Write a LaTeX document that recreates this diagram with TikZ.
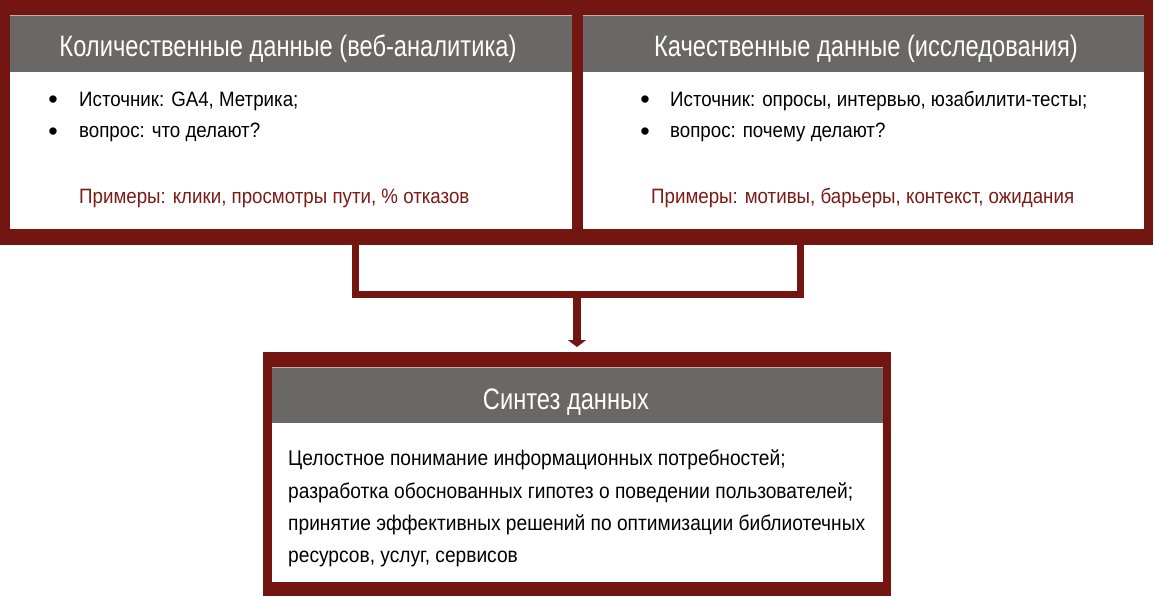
\documentclass[tikz,border=0pt]{standalone}
\usepackage{fontspec}
\setmainfont[FakeStretch=0.9]{Liberation Sans}
\newfontfamily\headfont[FakeStretch=0.8]{Liberation Sans}
\newfontfamily\bulletfont{Liberation Sans}
\usetikzlibrary{arrows.meta}
\definecolor{maroon}{HTML}{731510}
\definecolor{hgray}{HTML}{6B6766}
\definecolor{exred}{HTML}{7D1B16}
\definecolor{hair}{HTML}{C9ABA8}
\newcommand\hfnt{\headfont\fontsize{29.6}{32}\selectfont}
\newcommand\bfnt{\fontsize{20.8}{24}\selectfont}
\newcommand\sfnt{\fontsize{21.3}{24}\selectfont}
\tikzset{
  outerbox/.style={fill=maroon, draw=none, inner sep=0pt, outer sep=0pt, anchor=north west},
  headbox/.style={fill=hgray, draw=none, inner sep=0pt, outer sep=0pt, anchor=north west},
  bodybox/.style={fill=white, draw=none, inner sep=0pt, outer sep=0pt, anchor=north west},
  hairline/.style={draw=hair, line width=0.9pt},
  htext/.style={text=white, font=\hfnt, inner sep=0pt, anchor=base},
  btext/.style={text=black, font=\bfnt, inner sep=0pt, anchor=base west},
  extext/.style={text=exred, font=\bfnt, inner sep=0pt, anchor=base west},
  stext/.style={text=black, font=\sfnt, inner sep=0pt, anchor=base west},
  bul/.style={text=black, font=\bulletfont\fontsize{27}{27}\selectfont, inner sep=0pt, anchor=base},
  conn/.style={draw=maroon, line width=7pt, line join=miter, line cap=butt},
  arrowconn/.style={draw=maroon, line width=7.5pt, -{Triangle[width=18pt,length=7pt]}, shorten >=5pt}
}
\begin{document}
\begin{tikzpicture}[x=1pt,y=-1pt]
\useasboundingbox (0,0) rectangle (1156,599);
% top-left box
\node[outerbox, minimum width=583pt, minimum height=245pt] (qL) at (0,0) {};
\node[headbox, minimum width=562pt, minimum height=57pt] (hL) at (10,15) {};
\node[bodybox, minimum width=562pt, minimum height=157pt] (bL) at (10,72) {};
% top-right box
\node[outerbox, minimum width=581pt, minimum height=245pt] (qR) at (572,0) {};
\node[headbox, minimum width=561pt, minimum height=57pt] (hR) at (583,15) {};
\node[bodybox, minimum width=561pt, minimum height=157pt] (bR) at (583,72) {};
% bottom box
\node[outerbox, minimum width=628pt, minimum height=244pt] (syn) at (263,352) {};
\node[headbox, minimum width=611pt, minimum height=56pt] (hS) at (272,367) {};
\node[bodybox, minimum width=611pt, minimum height=159pt] (bS) at (272,423) {};
\draw[hairline] (hL.north west) -- (hL.north east);
\draw[hairline] (hR.north west) -- (hR.north east);
\draw[hairline] (hS.north west) -- (hS.north east);

% texts left
\node[htext] (tL) at (288,57) {Количественные данные (веб-аналитика)};
\node[bul] (bu1) at (53,109) {•};
\node[btext] (l1) at (79,107) {Источник: GA4, Метрика;};
\node[bul] (bu2) at (53,140) {•};
\node[btext] (l2) at (79,138) {вопрос: что делают?};
\node[extext] (exL) at (79,203) {Примеры: клики, просмотры пути, \% отказов};
% texts right
\node[htext] (tR) at (866,57) {Качественные данные (исследования)};
\node[bul] (bu3) at (645,109) {•};
\node[btext] (r1) at (670,107) {Источник: опросы, интервью, юзабилити-тесты;};
\node[bul] (bu4) at (645,140) {•};
\node[btext] (r2) at (670,138) {вопрос: почему делают?};
\node[extext] (exR) at (651,203) {Примеры: мотивы, барьеры, контекст, ожидания};
% synthesis
\node[htext] (tS) at (566,409) {Синтез данных};
\node[stext] (s1) at (288,465) {Целостное понимание информационных потребностей;};
\node[stext] (s2) at (288,498) {разработка обоснованных гипотез о поведении пользователей;};
\node[stext] (s3) at (288,530) {принятие эффективных решений по оптимизации библиотечных};
\node[stext] (s4) at (288,562) {ресурсов, услуг, сервисов};

% connectors
\coordinate (jL) at (355,294.5);
\coordinate (jR) at (800,294.5);
\coordinate (jM) at (577,294.5);
\draw[conn] (qL.south -| jL) -- (jL) -- (jR) -- (qR.south -| jR);
\draw[arrowconn] (jM) -- (syn.north -| jM);
\end{tikzpicture}
\end{document}
